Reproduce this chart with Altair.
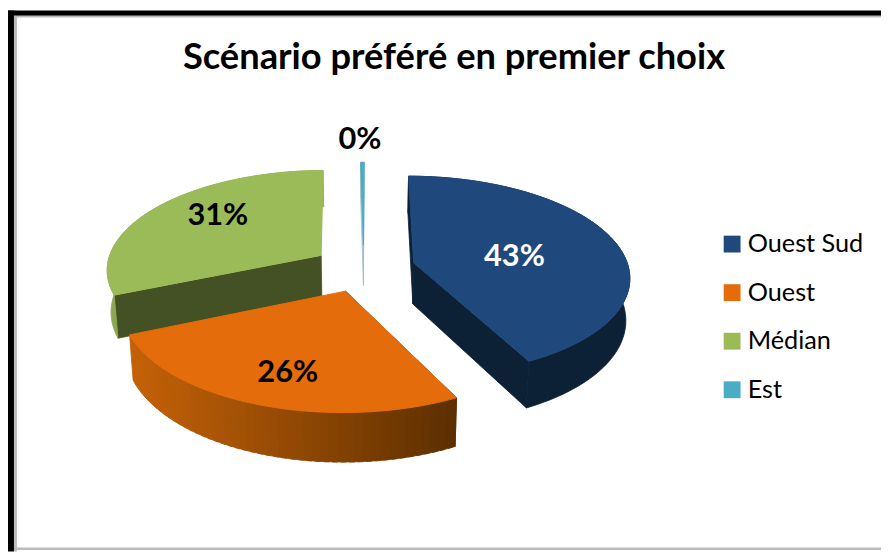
import math
import altair as alt
import pandas as pd

# Values
categories = ["Ouest Sud", "Ouest", "Médian", "Est"]
shares = [42.5, 26.0, 31.2, 0.3]
labels = ["43%", "26%", "31%", "0%"]
top_colors = ["#1F497D", "#E46C0A", "#9BBB59", "#4BACC6"]
wall_colors = ["#0C2036", None, "#8CA74F", "#A5C0CA"]
face_colors = ["#0C2036", "#5C2F00", "#435125", "#A5C0CA"]
label_colors = ["white", "black", "black", "black"]
label_radii = [0.48, 0.74, 0.68, 1.32]
label_turn = [7, -2, 6.3, -0.5]
TITLE = "Scénario préféré en premier choix"

# View of the exploded 3-D pie
CX, CY, RX, RY, PERSP, EXPLODE, DEPTH, START = 367, 268, 217, 100, 0.13, 0.24, 42, 0.2


def project(theta_deg, r, mid_deg, bottom=False):
    t, m = math.radians(theta_deg), math.radians(mid_deg)
    u = EXPLODE * math.sin(m) + r * math.sin(t)
    v = EXPLODE * math.cos(m) + r * math.cos(t)
    s = 1 / (1 + PERSP * v)
    if bottom:
        return CX + RX * u * s * 0.985, CY - RY * v * s + DEPTH * s
    return CX + RX * u * s, CY - RY * v * s


def mix(c1, c2, f):
    a = [int(c1[i:i + 2], 16) for i in (1, 3, 5)]
    b = [int(c2[i:i + 2], 16) for i in (1, 3, 5)]
    return "#%02X%02X%02X" % tuple(round(p + (q - p) * f) for p, q in zip(a, b))


walls, tops, texts = [], [], []
pid = 0


def add(rows, pts, **extra):
    global pid
    pid += 1
    for i, (x, y) in enumerate(list(pts) + [pts[0]]):
        rows.append(dict(pid=pid, i=i, x=x, y=y, **extra))


angle = START
for k, (cat, share) in enumerate(zip(categories, shares)):
    a0, a1 = angle, angle + share * 3.6
    angle = a1
    mid = (a0 + a1) / 2
    # straight cut faces that the viewer can see
    for edge in ((a0, a1) if k in (0, 3) else (a0,)):
        add(walls, [project(edge, 0, mid), project(edge, 1, mid),
                    project(edge, 1, mid, True), project(edge, 0, mid, True)],
            color=face_colors[k])
    # outer rim
    c = wall_colors[k]
    if c is None:
        # narrow overlapping strips, so that the rim can be shaded
        n = 48
        for j in range(n):
            t0 = a0 + (a1 - a0) * (j - 0.6) / n
            t1 = a0 + (a1 - a0) * (j + 1) / n
            t0 = max(t0, a0)
            pts = [project(t0, 1, mid), project(t1, 1, mid),
                   project(t1, 1, mid, True), project(t0, 1, mid, True)]
            add(walls, pts, color=mix("#C46108", "#5A2E00", max(0, min(1, (pts[1][0] - 130) / 328))))
    else:
        m = max(2, int(share * 2))
        ts = [a0 + (a1 - a0) * j / m for j in range(m + 1)]
        add(walls, [project(t, 1, mid) for t in ts] + [project(t, 1, mid, True) for t in reversed(ts)], color=c)
    # top face
    m = max(2, int(share * 2))
    arc = [project(a0 + (a1 - a0) * j / m, 1, mid) for j in range(m + 1)]
    add(tops, [project(mid, 0, mid)] + arc, cat=cat)
    x, y = project(mid + label_turn[k], label_radii[k], mid)
    texts.append(dict(x=x, y=y, text=labels[k], color=label_colors[k]))

W, H = 881, 546
xs = alt.Scale(domain=[8, 8 + W], nice=False, zero=False)
ys = alt.Scale(domain=[8 + H, 8], nice=False, zero=False)
X = alt.X("x:Q", scale=xs, axis=None)
Y = alt.Y("y:Q", scale=ys, axis=None)

frame = pd.DataFrame([
    dict(x=8, x2=889, y=13.5, y2=13.5, c="#BBBBBB", w=3),
    dict(x=15.5, x2=15.5, y=8, y2=554, c="#BBBBBB", w=3),
    dict(x=8, x2=889, y=551.2, y2=551.2, c="#BBBBBB", w=2.5),
    dict(x=8, x2=889, y=10.5, y2=10.5, c="#000000", w=5),
    dict(x=11, x2=11, y=8, y2=554, c="#000000", w=6),
])
frame_layer = alt.Chart(frame).mark_rule().encode(
    x=X, y=Y, x2="x2:Q", y2="y2:Q",
    color=alt.Color("c:N", scale=None),
    strokeWidth=alt.StrokeWidth("w:Q", scale=None),
)

wall_layer = alt.Chart(pd.DataFrame(walls)).mark_line(filled=True, strokeWidth=0.8).encode(
    x=X, y=Y, order="i:Q", detail="pid:N",
    fill=alt.Fill("color:N", scale=None),
    stroke=alt.Stroke("color:N", scale=None),
)

top_scale = alt.Scale(domain=categories, range=top_colors)
top_layer = alt.Chart(pd.DataFrame(tops)).mark_line(filled=True, strokeWidth=1).encode(
    x=X, y=Y, order="i:Q", detail="pid:N",
    stroke=alt.Stroke("cat:N", scale=top_scale, legend=None),
    fill=alt.Fill(
        "cat:N",
        scale=top_scale,
        legend=alt.Legend(
            title=None, orient="none", legendX=718, legendY=223,
            symbolType="square", symbolSize=289, symbolStrokeWidth=0,
            labelFont="Lato", labelFontSize=25.5, labelColor="black",
            labelOffset=3, rowPadding=22, symbolOpacity=1,
        ),
    ),
)

text_layer = alt.Chart(pd.DataFrame(texts)).mark_text(
    font="Lato", fontSize=31, fontWeight="bold", baseline="middle", align="center"
).encode(x=X, y=Y, text="text:N", color=alt.Color("color:N", scale=None))

chart = (
    alt.layer(frame_layer, wall_layer, top_layer, text_layer)
    .properties(
        width=W, height=H, padding=0, background="white",
        autosize=alt.AutoSizeParams(type="none"),
        title=alt.TitleParams(
            TITLE, font="Lato", fontSize=36.6, fontWeight="bold", color="black",
            anchor="start", orient="top", offset=-70, dx=179,
        ),
    )
    .configure_view(strokeWidth=0)
)
chart.save("out.html", embed_options={"renderer": "svg", "actions": False})
